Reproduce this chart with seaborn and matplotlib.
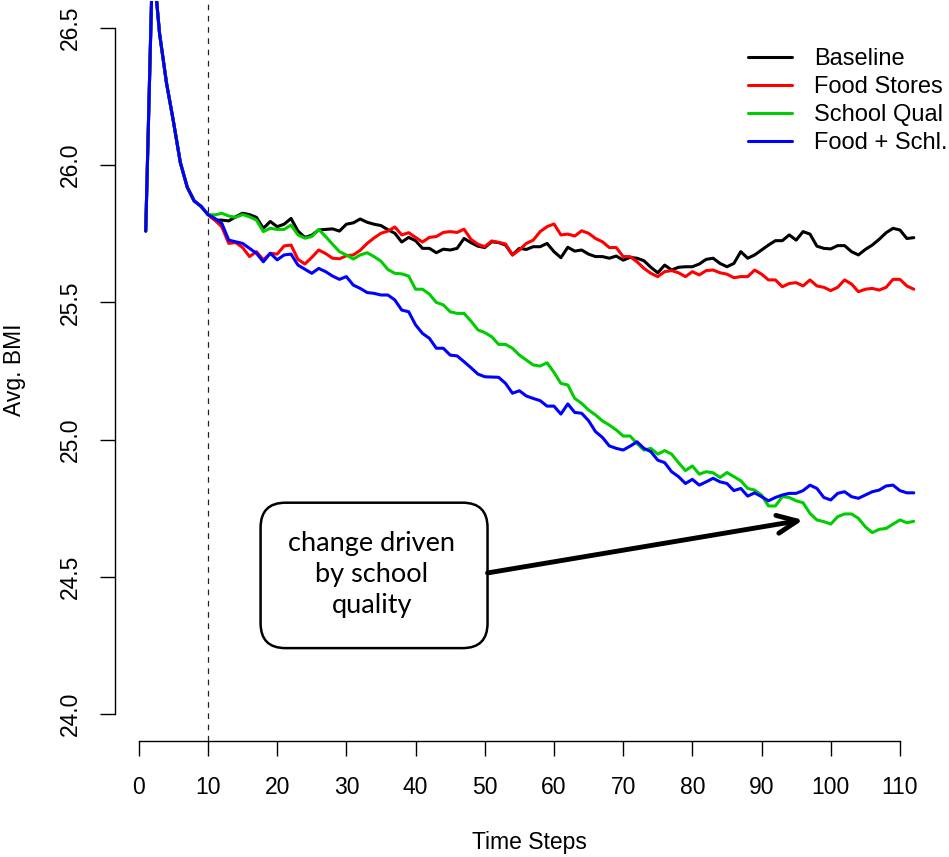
import matplotlib
matplotlib.use("Agg")
import matplotlib.pyplot as plt
from matplotlib.patches import FancyBboxPatch
import seaborn as sns
import pandas as pd

# ---------------- data ----------------
time_steps = list(range(1, 113))
warmup = [25.76, 26.76, 26.48, 26.30, 26.16, 26.01, 25.92, 25.87, 25.85, 25.82]

baseline_post = [
    25.800, 25.800, 25.797, 25.812, 25.825, 25.820, 25.810, 25.770, 25.795, 25.776,
    25.785, 25.806, 25.760, 25.737, 25.745, 25.764, 25.766, 25.768, 25.760, 25.785,
    25.790, 25.804, 25.792, 25.785, 25.780, 25.765, 25.752, 25.720, 25.737, 25.725,
    25.697, 25.697, 25.681, 25.694, 25.691,
    25.697, 25.733, 25.718, 25.705, 25.700, 25.721, 25.718, 25.709, 25.673, 25.697,
    25.693, 25.703, 25.703, 25.715, 25.685, 25.663, 25.701, 25.687, 25.691, 25.676,
    25.667, 25.667, 25.661, 25.669, 25.654, 25.664, 25.661, 25.652, 25.628, 25.608,
    25.636, 25.618, 25.628,
    25.630, 25.630, 25.640, 25.657, 25.661, 25.642, 25.630, 25.642, 25.685, 25.661,
    25.673, 25.691, 25.709, 25.725, 25.725, 25.746, 25.727, 25.758, 25.749, 25.705,
    25.697, 25.695, 25.707, 25.707, 25.685, 25.673, 25.693, 25.709, 25.730, 25.754,
    25.770, 25.764, 25.733, 25.736,
]
food_post = [
    25.800, 25.775, 25.715, 25.718, 25.700, 25.667, 25.685, 25.655, 25.679, 25.676,
    25.706, 25.709, 25.657, 25.640, 25.664, 25.691, 25.678, 25.661, 25.659, 25.670,
    25.673, 25.690, 25.715, 25.735, 25.752, 25.760, 25.775, 25.746, 25.754, 25.737,
    25.720, 25.737, 25.740, 25.755, 25.758,
    25.755, 25.767, 25.730, 25.712, 25.703, 25.724, 25.719, 25.713, 25.673, 25.691,
    25.715, 25.727, 25.758, 25.776, 25.786, 25.746, 25.749, 25.742, 25.761, 25.752,
    25.733, 25.721, 25.700, 25.700, 25.667, 25.667, 25.648, 25.624, 25.606, 25.594,
    25.612, 25.616, 25.608,
    25.594, 25.612, 25.600, 25.616, 25.618, 25.608, 25.603, 25.590, 25.594, 25.594,
    25.618, 25.603, 25.582, 25.582, 25.557, 25.569, 25.572, 25.560, 25.582, 25.560,
    25.555, 25.543, 25.555, 25.582, 25.567, 25.539, 25.548, 25.551, 25.545, 25.555,
    25.584, 25.584, 25.560, 25.548,
]
school_post = [
    25.819, 25.825, 25.815, 25.810, 25.820, 25.812, 25.800, 25.758, 25.770, 25.766,
    25.766, 25.782, 25.746, 25.734, 25.740, 25.766, 25.740, 25.712, 25.685, 25.673,
    25.658, 25.673, 25.681, 25.667, 25.650, 25.620, 25.606,
    25.604, 25.596, 25.548, 25.548, 25.530, 25.500, 25.491, 25.466, 25.460, 25.460,
    25.432, 25.400, 25.390, 25.375, 25.347, 25.347, 25.333, 25.308, 25.290, 25.272,
    25.268, 25.280, 25.245, 25.205, 25.199, 25.150, 25.132, 25.108, 25.090, 25.068,
    25.053, 25.035,
    25.013, 25.013, 24.986, 24.962, 24.968, 24.947, 24.960, 24.947, 24.916, 24.887,
    24.904, 24.874, 24.883, 24.879, 24.862, 24.880, 24.865, 24.850, 24.822, 24.816,
    24.798, 24.758, 24.758, 24.792, 24.789, 24.777, 24.770, 24.731, 24.707, 24.701,
    24.692, 24.719, 24.729, 24.729, 24.713, 24.682, 24.661, 24.673, 24.676, 24.692,
    24.707, 24.697, 24.702,
]
combo_post = [
    25.806, 25.788, 25.727, 25.721, 25.715, 25.697, 25.679, 25.648, 25.679, 25.655,
    25.673, 25.676, 25.636, 25.621, 25.606, 25.624, 25.612, 25.596, 25.584, 25.594,
    25.563, 25.551, 25.536, 25.533, 25.527, 25.527, 25.509,
    25.472, 25.466, 25.418, 25.387, 25.369, 25.333, 25.333, 25.308, 25.305, 25.284,
    25.262, 25.239, 25.229, 25.228, 25.227, 25.205, 25.169, 25.178, 25.159, 25.150,
    25.142, 25.122, 25.122, 25.093, 25.130, 25.099, 25.096, 25.069, 25.029, 25.008,
    24.977, 24.968,
    24.962, 24.976, 24.992, 24.968, 24.956, 24.925, 24.916, 24.883, 24.865, 24.840,
    24.855, 24.834, 24.846, 24.859, 24.846, 24.840, 24.814, 24.822, 24.794, 24.806,
    24.792, 24.777, 24.789, 24.798, 24.804, 24.804, 24.814, 24.834, 24.822, 24.789,
    24.780, 24.804, 24.810, 24.792, 24.786, 24.798, 24.810, 24.816, 24.831, 24.834,
    24.814, 24.806, 24.806,
]

scenario_labels = ["Baseline", "Food Stores", "School Qual", "Food + Schl."]
scenario_colors = ["#000000", "#FF0000", "#00CD00", "#0000FF"]
x_ticks = list(range(0, 111, 10))
y_ticks = [24.0, 24.5, 25.0, 25.5, 26.0, 26.5]
intervention_step = 10
annotation_text = "change driven\nby school\nquality"
x_label = "Time Steps"
y_label = "Avg. BMI"

# ---------------- style ----------------
sns.set_theme(style="white")
plt.rcParams["font.family"] = ["Liberation Sans", "DejaVu Sans"]
for key in ["text.color", "axes.labelcolor", "xtick.color", "ytick.color", "axes.edgecolor"]:
    plt.rcParams[key] = "black"

series = [warmup + baseline_post, warmup + food_post, warmup + school_post, warmup + combo_post]
frames = []
for lab, vals in zip(scenario_labels, series):
    frames.append(pd.DataFrame({"step": time_steps, "bmi": vals, "scenario": lab}))
df = pd.concat(frames, ignore_index=True)

W, H = 949, 857
fig = plt.figure(figsize=(W / 100, H / 100), dpi=100)
ax = fig.add_axes([115 / W, (H - 741.4) / H, 829.5 / W, 740.8 / H])

sns.lineplot(data=df, x="step", y="bmi", hue="scenario", hue_order=scenario_labels,
             palette=scenario_colors, linewidth=2.2, estimator=None, sort=False, ax=ax)

ax.set_xlim(-3.44, 116.44)
ax.set_ylim(23.9, 26.6)

ax.axvline(intervention_step, color="#222222", lw=0.9, ls=(0, (4.5, 4.5)), zorder=1)

for s in ["top", "right"]:
    ax.spines[s].set_visible(False)
for s in ["left", "bottom"]:
    ax.spines[s].set_color("black")
    ax.spines[s].set_linewidth(1.0)
ax.spines["left"].set_bounds(y_ticks[0], y_ticks[-1])
ax.spines["bottom"].set_bounds(x_ticks[0], x_ticks[-1])

ax.set_xticks(x_ticks)
ax.set_xticklabels([str(v) for v in x_ticks], fontsize=16.5)
ax.set_yticks(y_ticks)
ax.set_yticklabels([f"{v:.1f}" for v in y_ticks], fontsize=16.5, rotation=90, va="center")
ax.tick_params(axis="both", direction="out", length=10.8, width=1.0, color="black",
               labelcolor="black", left=True, bottom=True)
ax.tick_params(axis="x", pad=14)
ax.tick_params(axis="y", pad=13)

ax.set_xlabel(x_label, fontsize=16.5, color="black")
ax.set_ylabel(y_label, fontsize=16.5, color="black")
ax.xaxis.set_label_coords(0.5, (741.4 - 843) / 740.8)
ax.xaxis.label.set_va("center")
ax.yaxis.set_label_coords((15 - 115) / 829.5, (741.4 - 370) / 740.8)
ax.yaxis.label.set_va("center")

sns.move_legend(ax, loc="upper left", bbox_to_anchor=(0.763, 0.936), title=None,
                frameon=False, fontsize=17, handlelength=1.86, handletextpad=0.93,
                labelspacing=0.26, borderpad=0, borderaxespad=0)
leg = ax.get_legend()
for line in leg.get_lines():
    line.set_linewidth(2.2)
for txt in leg.get_texts():
    txt.set_color("black")

# annotation box + arrow
bx0, bx1, by0, by1 = 17.6, 50.4, 24.24, 24.77
aspect = (740.8 / 2.7) ** -1 * (829.5 / 119.88)
box = FancyBboxPatch((bx0, by0), bx1 - bx0, by1 - by0,
                     boxstyle="round,pad=0,rounding_size=3.6", mutation_aspect=aspect,
                     transform=ax.transData, facecolor="white", edgecolor="black",
                     linewidth=1.8, zorder=5)
ax.add_patch(box)
ax.text((bx0 + bx1) / 2 - 0.3, (by0 + by1) / 2 + 0.004, annotation_text, ha="center",
        va="center", fontsize=19.5, family=["Lato", "DejaVu Sans"], color="black",
        linespacing=1.3, zorder=6)
ax.annotate("", xy=(96.0, 24.707), xytext=(bx1, 24.514),
            arrowprops=dict(arrowstyle="->,head_length=1.45,head_width=0.65",
                            mutation_scale=10, lw=3.5, color="black",
                            shrinkA=0, shrinkB=0), zorder=6)

fig.savefig("out.png", dpi=100)
